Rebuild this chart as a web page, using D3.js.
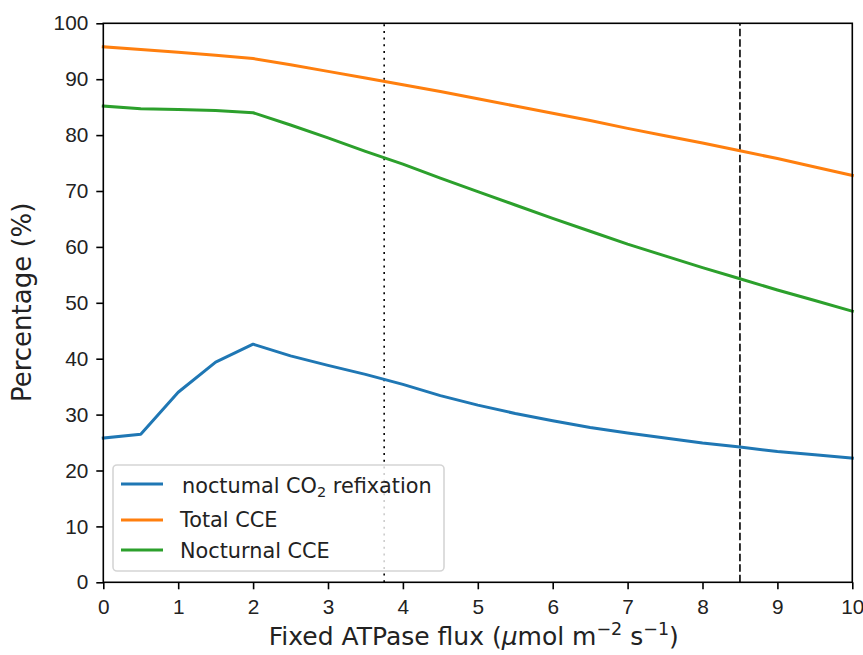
<!DOCTYPE html>
<html>
<head>
<meta charset="utf-8">
<script src="https://cdn.jsdelivr.net/npm/d3@7"></script>
<style>
  body { margin: 0; background: #fff; }
  svg { font-family: "DejaVu Sans", sans-serif; }
</style>
</head>
<body>
<div class="wrapper"></div>
<script>
var atpFlux = [0, 0.5, 1, 1.5, 2, 2.5, 3, 3.5, 4, 4.5, 5, 5.5, 6, 6.5, 7, 7.5, 8, 8.5, 9, 9.5, 10];
var refixation = [25.8, 26.5, 34.0, 39.4, 42.6, 40.5, 38.8, 37.2, 35.4, 33.4, 31.7, 30.2, 28.9, 27.7, 26.7, 25.8, 24.9, 24.2, 23.4, 22.8, 22.2];
var totalCCE = [95.8, 95.3, 94.8, 94.3, 93.7, 92.6, 91.4, 90.2, 89.0, 87.8, 86.5, 85.2, 83.9, 82.6, 81.2, 79.9, 78.6, 77.2, 75.8, 74.3, 72.8];
var nocturnalCCE = [85.2, 84.7, 84.6, 84.4, 84.0, 81.8, 79.5, 77.1, 74.8, 72.3, 69.9, 67.5, 65.1, 62.8, 60.5, 58.4, 56.3, 54.3, 52.3, 50.4, 48.5];
var seriesNames = ["noctumal CO2 refixation", "Total CCE", "Nocturnal CCE"];
var colors = ["#1f77b4", "#ff7f0e", "#2ca02c"];
var xTicks = [0, 1, 2, 3, 4, 5, 6, 7, 8, 9, 10];
var yTicks = [0, 10, 20, 30, 40, 50, 60, 70, 80, 90, 100];
var markerLines = [{ x: 3.75, dash: "2,4.7" }, { x: 8.5, dash: "7.5,3" }];

var width = 863, height = 655;
var margin = { left: 103.3, right: 10.7, top: 23.3, bottom: 72.7 };
var tickFont = 20.8, labelFont = 25;

var svg = d3.select(".wrapper").append("svg")
  .attr("width", width)
  .attr("height", height);

var xScale = d3.scaleLinear().domain([0, 10]).range([margin.left, width - margin.right]);
var yScale = d3.scaleLinear().domain([0, 100]).range([height - margin.bottom, margin.top]);

// vertical reference lines
markerLines.forEach(function(m) {
  svg.append("line")
    .attr("x1", xScale(m.x)).attr("x2", xScale(m.x))
    .attr("y1", yScale(0)).attr("y2", yScale(100))
    .attr("stroke", "#000")
    .attr("stroke-width", 1.6)
    .attr("stroke-dasharray", m.dash);
});

// data lines
var allSeries = [refixation, totalCCE, nocturnalCCE];
var line = d3.line()
  .x(function(d, i) { return xScale(atpFlux[i]); })
  .y(function(d) { return yScale(d); });

allSeries.forEach(function(s, k) {
  svg.append("path")
    .datum(s)
    .attr("fill", "none")
    .attr("stroke", colors[k])
    .attr("stroke-width", 3)
    .attr("stroke-linejoin", "round")
    .attr("stroke-linecap", "square")
    .attr("d", line);
});

// axes
var xAxis = svg.append("g")
  .attr("transform", "translate(0," + yScale(0) + ")")
  .call(d3.axisBottom(xScale).tickValues(xTicks).tickSize(7).tickPadding(10).tickSizeOuter(0));
var yAxis = svg.append("g")
  .attr("transform", "translate(" + xScale(0) + ",0)")
  .call(d3.axisLeft(yScale).tickValues(yTicks).tickSize(7).tickPadding(8).tickSizeOuter(0));
[xAxis, yAxis].forEach(function(a) {
  a.select(".domain").remove();
  a.selectAll(".tick line").attr("stroke", "#000").attr("stroke-width", 1.6);
  a.selectAll(".tick text").attr("font-size", tickFont).attr("fill", "#222");
});

// frame
svg.append("rect")
  .attr("x", xScale(0)).attr("y", yScale(100))
  .attr("width", xScale(10) - xScale(0))
  .attr("height", yScale(0) - yScale(100))
  .attr("fill", "none")
  .attr("stroke", "#000")
  .attr("stroke-width", 1.6);

// axis labels
var xLabel = svg.append("text")
  .attr("x", (xScale(0) + xScale(10)) / 2 - 4)
  .attr("y", 645)
  .attr("text-anchor", "middle")
  .attr("font-size", labelFont)
  .attr("fill", "#222");
xLabel.append("tspan").text("Fixed ATPase flux (");
xLabel.append("tspan").attr("font-style", "italic").text("μ");
xLabel.append("tspan").text("mol m");
xLabel.append("tspan").attr("font-size", 17.5).attr("dy", -10).text("−2");
xLabel.append("tspan").attr("dy", 10).text(" s");
xLabel.append("tspan").attr("font-size", 17.5).attr("dy", -10).text("−1");
xLabel.append("tspan").attr("dy", 10).text(")");

svg.append("text")
  .attr("transform", "translate(31," + (yScale(50) - 0.5) + ") rotate(-90)")
  .attr("text-anchor", "middle")
  .attr("font-size", 26)
  .attr("fill", "#222")
  .text("Percentage (%)");

// legend
var legend = svg.append("g");
legend.append("rect")
  .attr("x", 113).attr("y", 465)
  .attr("width", 331).attr("height", 106)
  .attr("rx", 4)
  .attr("fill", "rgba(255,255,255,0.8)")
  .attr("stroke", "#d5d5d5")
  .attr("stroke-width", 1.6);
var rowY = [484, 520, 550];
var baseY = [493, 527, 558];
seriesNames.forEach(function(name, k) {
  legend.append("line")
    .attr("x1", 121).attr("x2", 163)
    .attr("y1", rowY[k]).attr("y2", rowY[k])
    .attr("stroke", colors[k]).attr("stroke-width", 3);
  var t = legend.append("text")
    .attr("x", k === 0 ? 182 : 180)
    .attr("y", baseY[k])
    .attr("font-size", tickFont)
    .attr("fill", "#222");
  if (k === 0) {
    t.append("tspan").text("noctumal CO");
    t.append("tspan").attr("font-size", 14.5).attr("dy", 4).text("2");
    t.append("tspan").attr("dy", -4).text(" refixation");
  } else {
    t.text(name);
  }
});
</script>
</body>
</html>
